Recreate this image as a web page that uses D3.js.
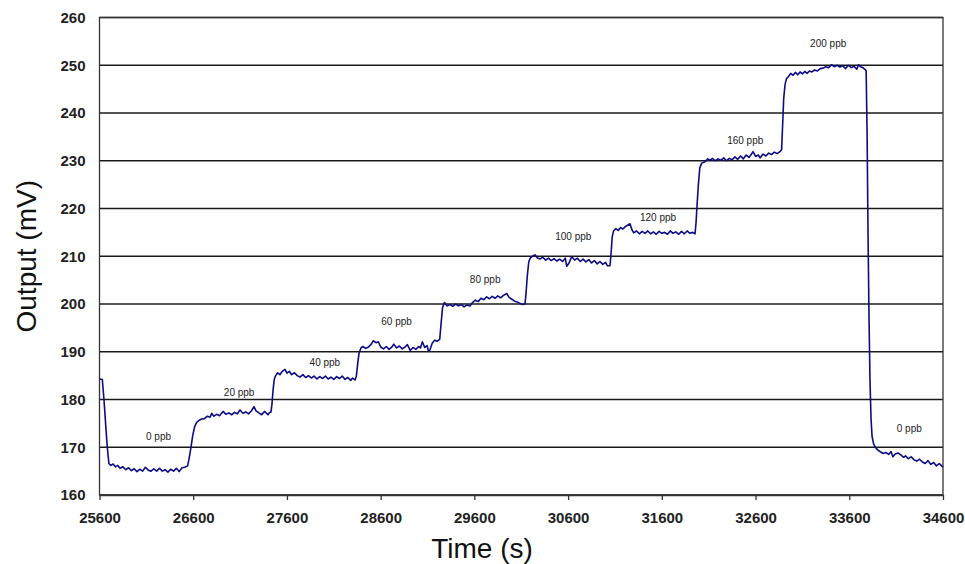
<!DOCTYPE html>
<html>
<head>
<meta charset="utf-8">
<script src="https://cdn.jsdelivr.net/npm/d3@7"></script>
<style>
  html, body { margin: 0; padding: 0; background: #fff; }
  svg { display: block; font-family: "Liberation Sans", Arial, sans-serif; }
</style>
</head>
<body>
<svg id="chart" width="965" height="564"></svg>
<script>
// Sensor output (mV) versus time (s) while the concentration is stepped up.
// Each array holds [time s, output mV] samples for one concentration step.
const baseline0 = [
  [25600,184.3],[25630,184.2],[25648,179.9],[25665,175.0],[25683,170.0],[25700,166.6],[25720,166.2],
  [25745,166.5],[25770,165.9],[25795,166.2],[25820,165.6],[25850,165.9],[25880,165.3],[25910,165.7],
  [25940,165.1],[25970,165.5],[26000,164.9],[26030,165.4],[26060,165.0],[26090,165.8],[26120,165.2],
  [26150,165.0],[26180,165.5],[26210,165.0],[26240,165.6],[26270,165.0],[26300,165.3],[26330,164.8],
  [26360,165.4],[26390,165.0],[26420,165.6],[26450,164.9],[26480,165.7],[26510,165.8],[26540,166.1]
];
const step20 = [
  [26555,167.5],[26576,170.0],[26595,172.5],[26615,174.3],[26637,175.2],[26660,175.6],[26690,175.9],
  [26720,176.0],[26750,176.5],[26780,176.3],[26797,177.1],[26820,176.5],[26850,176.9],[26880,176.6],
  [26918,177.5],[26950,176.9],[26980,177.2],[27010,176.8],[27040,177.3],[27070,177.0],[27099,177.8],
  [27130,177.1],[27160,177.4],[27190,177.0],[27220,177.6],[27248,178.5],[27270,177.6],[27300,177.2],
  [27331,176.8],[27360,177.5],[27398,176.8],[27415,177.3],[27430,177.4]
];
const step40 = [
  [27440,179.0],[27452,182.0],[27465,184.3],[27480,185.0],[27500,185.6],[27525,185.2],[27550,185.9],
  [27579,186.3],[27600,185.5],[27625,185.9],[27650,185.2],[27680,185.6],[27710,185.0],[27740,184.7],
  [27770,185.2],[27800,184.6],[27830,185.0],[27860,184.5],[27890,184.9],[27920,184.3],[27950,184.8],
  [27980,184.4],[28010,184.9],[28040,184.3],[28070,184.7],[28100,184.2],[28130,184.8],[28160,184.4],
  [28190,184.9],[28220,184.2],[28250,184.6],[28280,184.0],[28300,184.5],[28326,184.1]
];
const step60 = [
  [28340,184.8],[28355,187.5],[28370,189.8],[28390,190.8],[28410,191.1],[28440,190.7],[28470,191.0],
  [28500,191.6],[28520,192.3],[28550,191.9],[28575,192.1],[28600,191.0],[28630,190.6],[28660,191.1],
  [28690,190.5],[28720,191.0],[28740,191.6],[28770,190.8],[28800,191.2],[28830,190.6],[28860,191.0],
  [28885,191.5],[28915,190.3],[28945,190.9],[28975,190.5],[29005,191.1],[29025,190.8],[29045,192.1],
  [29070,190.9],[29095,191.3],[29110,190.1],[29126,190.4],[29150,191.8],[29175,192.4],[29200,192.2],
  [29230,192.6]
];
const step80 = [
  [29245,196.0],[29260,199.2],[29280,200.3],[29310,199.6],[29340,199.9],[29370,199.5],[29400,200.0],
  [29430,199.6],[29460,199.9],[29490,199.4],[29520,199.8],[29553,199.6],[29580,200.3],[29610,200.8],
  [29640,200.5],[29670,201.2],[29700,200.9],[29730,201.5],[29760,201.1],[29790,201.6],[29820,201.2],
  [29850,201.7],[29880,201.3],[29910,201.8],[29945,202.2],[29970,201.4],[30000,201.0],[30030,200.6],
  [30060,200.4],[30090,200.1],[30115,199.9],[30140,200.0]
];
const step100 = [
  [30150,202.0],[30165,206.0],[30180,208.8],[30195,209.6],[30220,210.0],[30246,210.3],[30270,209.7],
  [30300,209.4],[30330,209.8],[30360,209.2],[30390,209.6],[30420,209.1],[30450,209.5],[30480,209.0],
  [30510,209.4],[30540,208.9],[30570,209.6],[30585,207.9],[30610,208.6],[30638,209.9],[30670,209.2],
  [30700,209.6],[30730,208.9],[30760,209.4],[30790,208.8],[30820,209.3],[30850,208.6],[30880,209.1],
  [30910,208.4],[30940,208.9],[30970,208.3],[31000,208.7],[31020,208.0],[31047,208.0]
];
const step120 = [
  [31060,211.0],[31070,214.0],[31085,215.3],[31110,215.8],[31135,215.4],[31160,216.0],[31185,215.7],
  [31210,216.2],[31235,216.5],[31260,216.8],[31280,215.6],[31300,214.9],[31330,215.3],[31360,214.7],
  [31390,215.2],[31420,214.8],[31450,215.3],[31480,214.7],[31510,215.1],[31540,214.6],[31570,215.2],
  [31600,214.8],[31630,215.0],[31660,214.6],[31690,215.3],[31720,214.8],[31750,215.1],[31780,214.6],
  [31810,215.2],[31840,214.7],[31870,215.3],[31900,214.8],[31930,215.0],[31954,214.7]
];
const step160 = [
  [31965,217.0],[31975,220.5],[31990,225.0],[32005,228.5],[32025,229.5],[32061,229.8],[32090,230.4],
  [32114,230.1],[32140,230.5],[32170,230.0],[32200,230.4],[32230,230.1],[32260,230.6],[32290,230.0],
  [32320,230.5],[32350,230.2],[32380,230.8],[32410,230.3],[32440,231.0],[32470,230.4],[32500,231.2],
  [32530,230.7],[32560,231.5],[32573,231.9],[32600,230.9],[32630,231.2],[32648,230.6],[32680,231.4],
  [32710,231.0],[32740,231.6],[32770,231.3],[32800,231.8],[32830,231.5],[32860,231.9],[32878,232.3]
];
const step200 = [
  [32890,238.0],[32900,243.0],[32915,246.0],[32930,247.2],[32950,247.6],[32975,248.3],[33000,247.9],
  [33025,248.5],[33050,248.0],[33075,248.6],[33100,248.2],[33125,248.7],[33150,248.3],[33175,248.8],
  [33200,248.6],[33230,249.0],[33260,248.8],[33290,249.3],[33320,249.4],[33350,249.7],[33380,249.5],
  [33410,250.1],[33440,249.7],[33470,250.0],[33500,249.6],[33530,249.9],[33560,249.3],[33590,250.0],
  [33620,249.5],[33650,249.8],[33680,249.2],[33700,250.1],[33720,249.7],[33745,249.5],[33770,249.1],
  [33780,248.8]
];
const recovery0 = [
  [33790,236.0],[33800,215.0],[33810,198.0],[33821,184.0],[33832,176.0],[33843,172.3],[33858,170.8],
  [33874,170.1],[33900,169.5],[33927,169.1],[33960,168.7],[33990,168.9],[34020,168.5],[34045,169.1],
  [34065,168.0],[34090,168.6],[34120,168.8],[34150,168.4],[34180,167.9],[34200,168.2],[34230,167.6],
  [34260,168.0],[34290,167.4],[34320,167.1],[34350,167.5],[34380,166.9],[34410,166.6],[34440,167.2],
  [34470,166.4],[34500,166.8],[34530,166.1],[34560,166.6],[34580,166.2],[34600,165.8]
];

// Concentration annotations, anchored in data units (time s, output mV)
const stepLabels = ["0 ppb","20 ppb","40 ppb","60 ppb","80 ppb","100 ppb","120 ppb","160 ppb","200 ppb","0 ppb"];
const labelTime  = [26230, 27090, 28005, 28770, 29715, 30655, 31560, 32490, 33375, 34240];
const labelMV    = [172.2, 181.4, 187.8, 196.3, 205.2, 214.1, 218.1, 234.2, 254.5, 173.9];

const xTicks = [25600, 26600, 27600, 28600, 29600, 30600, 31600, 32600, 33600, 34600];
const yTicks = [160, 170, 180, 190, 200, 210, 220, 230, 240, 250, 260];

const trace = [].concat(baseline0, step20, step40, step60, step80, step100, step120, step160, step200, recovery0);

const svg = d3.select("#chart");
const plotLeft = 99.5, plotRight = 943, plotTop = 17.5, plotBottom = 495;

const x = d3.scaleLinear().domain([25600, 34600]).range([plotLeft, plotRight]);
const y = d3.scaleLinear().domain([160, 260]).range([plotBottom, plotTop]);

// horizontal gridlines
svg.append("g")
  .selectAll("line")
  .data(yTicks)
  .join("line")
  .attr("x1", plotLeft).attr("x2", plotRight)
  .attr("y1", d => y(d)).attr("y2", d => y(d))
  .attr("stroke", "#1a1a1a").attr("stroke-width", 1.3);

// plot frame
svg.append("rect")
  .attr("x", plotLeft).attr("y", plotTop)
  .attr("width", plotRight - plotLeft).attr("height", plotBottom - plotTop)
  .attr("fill", "none").attr("stroke", "#333").attr("stroke-width", 1.3);

// x axis with outward ticks
const xAxis = svg.append("g")
  .attr("transform", `translate(0,${plotBottom})`)
  .call(d3.axisBottom(x).tickValues(xTicks).tickFormat(d3.format("d")).tickSize(5).tickSizeOuter(0).tickPadding(12));
xAxis.select(".domain").attr("stroke", "#333").attr("stroke-width", 1.3);
xAxis.selectAll(".tick line").attr("stroke", "#333").attr("stroke-width", 1.3);
xAxis.selectAll("text")
  .attr("font-family", "'Liberation Sans', Arial, sans-serif")
  .attr("font-size", 15).attr("font-weight", "bold").attr("fill", "#222");

// y axis labels
const yAxis = svg.append("g")
  .attr("transform", `translate(${plotLeft},0)`)
  .call(d3.axisLeft(y).tickValues(yTicks).tickFormat(d3.format("d")).tickSize(0).tickPadding(14));
yAxis.select(".domain").remove();
yAxis.selectAll("text")
  .attr("font-family", "'Liberation Sans', Arial, sans-serif")
  .attr("font-size", 15).attr("font-weight", "bold").attr("fill", "#222");

// sensor trace
const line = d3.line().x(d => x(d[0])).y(d => y(d[1]));
svg.append("path")
  .datum(trace)
  .attr("d", line)
  .attr("fill", "none")
  .attr("stroke", "#0c0c86")
  .attr("stroke-width", 1.6)
  .attr("stroke-linejoin", "round");

// concentration labels
svg.append("g")
  .selectAll("text")
  .data(stepLabels)
  .join("text")
  .attr("x", (d, i) => x(labelTime[i]))
  .attr("y", (d, i) => y(labelMV[i]))
  .attr("text-anchor", "middle")
  .attr("dominant-baseline", "central")
  .attr("font-size", 10)
  .attr("fill", "#222")
  .text(d => d);

// axis titles
svg.append("text")
  .attr("x", 482).attr("y", 558)
  .attr("text-anchor", "middle")
  .attr("font-size", 28).attr("fill", "#111")
  .text("Time (s)");

svg.append("text")
  .attr("transform", `translate(36,${(plotTop + plotBottom) / 2}) rotate(-90)`)
  .attr("text-anchor", "middle")
  .attr("font-size", 28).attr("fill", "#111")
  .text("Output (mV)");
</script>
</body>
</html>
